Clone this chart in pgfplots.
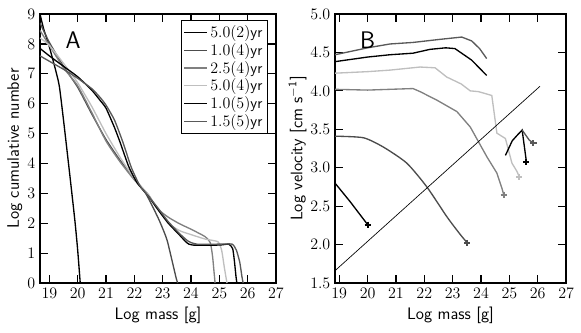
\documentclass[border=0pt]{standalone}
\usepackage{pgfplots}
\pgfplotsset{compat=1.18}
\begin{document}
\begin{tikzpicture}
\pgfplotsset{
  every axis/.append style={
    scale only axis, height=201.75pt,
    tick align=inside, major tick length=6pt,
    every tick/.style={line width=0.9pt, black},
    axis line style={line width=0.9pt},
    xmax=27, xtick={19,...,27},
    tick label style={font=\fontsize{12.5}{15}\selectfont},
    label style={font=\sffamily\fontsize{12.5}{15}\selectfont},
    xlabel={Log mass [g]},
    every axis plot/.append style={line width=1pt},
  }
}
\useasboundingbox (-30pt,-36.75pt) rectangle (405.75pt,212.25pt);

% panel A
\begin{axis}[
  at={(0pt,0pt)}, width=177pt,
  xmin=18.67, ymin=0, ymax=9, ytick={0,...,9},
  ylabel={Log cumulative number},
  ylabel shift=-3pt,
  legend style={font=\sffamily\fontsize{11.5}{12.5}\selectfont, at={(0.966,0.978)}, anchor=north east,
    draw=black, row sep=-1.2pt, inner sep=2pt},
  legend cell align=left,
  every axis plot/.append style={smooth, tension=0.35},
]
\addplot[black] coordinates {
  (18.67,9.0) (18.8,8.5) (19.0,7.9) (19.2,7.2) (19.35,6.6) (19.5,5.45)
  (19.7,3.8) (19.9,2.1) (20.0,1.1) (20.09,0)
};
\addlegendentry{$5.0(2)$yr}
\addplot[black!70] coordinates {
  (18.67,8.7) (19.0,8.05) (19.5,7.25) (20.0,6.55) (20.5,5.65) (21.0,4.8)
  (21.5,4.1) (22.0,3.5) (22.4,3.0) (22.7,2.45) (22.9,2.05) (23.15,1.45)
  (23.38,0.55) (23.48,0.15) (23.53,0)
};
\addlegendentry{$1.0(4)$yr}
\addplot[black!50] coordinates {
  (18.67,8.45) (19.0,7.95) (19.5,7.2) (20.0,6.6) (20.5,5.7) (21.0,4.75)
  (21.5,4.05) (22.0,3.45) (22.5,2.95) (22.8,2.5) (23.2,2.2) (23.6,1.98)
  (24.0,1.8) (24.5,1.55) (24.68,1.35) (24.76,0.9) (24.82,0.3) (24.85,0)
};
\addlegendentry{$2.5(4)$yr}
\addplot[black!25] coordinates {
  (18.67,8.2) (19.0,7.95) (19.5,7.35) (20.0,6.7) (20.5,5.9) (21.0,5.0)
  (21.5,4.2) (22.0,3.5) (22.5,2.95) (22.8,2.5) (23.2,2.0) (23.6,1.75)
  (24.0,1.62) (24.5,1.47) (24.95,1.38) (25.08,1.1) (25.18,0.5) (25.27,0)
};
\addlegendentry{$5.0(4)$yr}
\addplot[black] coordinates {
  (18.67,7.85) (19.0,7.6) (19.5,7.25) (20.0,6.9) (20.5,6.45) (20.8,6.1)
  (21.0,5.85) (21.3,5.2) (21.5,4.7) (21.8,3.9) (22.1,3.35) (22.5,2.9)
  (22.8,2.5) (23.2,2.0) (23.6,1.6) (23.85,1.35) (24.05,1.27) (25.0,1.27)
  (25.33,1.3) (25.47,1.15) (25.53,0.75) (25.59,0.2) (25.62,0)
};
\addlegendentry{$1.0(5)$yr}
\addplot[black!65] coordinates {
  (18.67,7.6) (19.0,7.42) (19.5,7.15) (20.0,6.85) (20.5,6.5) (20.8,6.2)
  (21.0,5.95) (21.3,5.45) (21.6,4.7) (21.9,3.85) (22.2,3.25) (22.5,2.9)
  (22.8,2.55) (23.2,2.05) (23.6,1.65) (23.9,1.4) (24.2,1.3) (25.0,1.3)
  (25.45,1.3) (25.6,1.1) (25.72,0.7) (25.8,0.2) (25.84,0)
};
\addlegendentry{$1.5(5)$yr}
\node[font=\sffamily\fontsize{18}{20}\selectfont, anchor=center] at (axis cs:19.84,8.13) {A};
\end{axis}

% panel B
\begin{axis}[
  at={(221.25pt,0pt)}, width=173.3pt,
  xmin=18.85, ymin=1.5, ymax=5.0, ytick={1.5,2.0,...,5.0},
  yticklabel style={/pgf/number format/.cd, fixed, fixed zerofill, precision=1},
  ylabel={Log velocity [cm s\textsuperscript{$-$1}]},
  ylabel shift=-4pt,
]
\addplot[black!65] coordinates {
  (18.85,4.47) (20.0,4.56) (20.79,4.61) (21.6,4.63) (22.55,4.67)
  (23.32,4.7) (23.67,4.65) (23.95,4.55) (24.2,4.42)
};
\addplot[black] coordinates {
  (18.85,4.38) (20.0,4.44) (20.79,4.47) (21.6,4.49) (22.2,4.54)
  (22.75,4.56) (23.08,4.55) (23.67,4.4) (24.2,4.2)
};
\addplot[black!25] coordinates {
  (18.85,4.23) (20.0,4.25) (20.79,4.27) (21.85,4.31) (22.38,4.3)
  (22.79,4.18) (23.3,4.09) (23.62,4.0) (23.91,3.99) (24.38,3.94)
  (24.56,3.45) (24.86,3.38) (25.09,3.06) (25.27,2.95) (25.35,2.88)
};
\addplot[black!25, only marks, mark=+, mark size=2.3pt, line width=1.5pt] coordinates {(25.35,2.88)};
\addplot[black!50] coordinates {
  (18.85,4.02) (20.0,4.01) (20.79,4.02) (21.6,4.03) (21.85,3.99) (22.44,3.88)
  (23.15,3.73) (23.62,3.53) (24.21,3.14) (24.56,2.93) (24.74,2.73) (24.8,2.65)
};
\addplot[black!50, only marks, mark=+, mark size=2.3pt, line width=1.5pt] coordinates {(24.8,2.65)};
\addplot[black!70, smooth, tension=0.4] coordinates {
  (18.85,3.41) (19.85,3.39) (20.55,3.27) (21.38,3.06) (22.09,2.75)
  (22.8,2.36) (23.27,2.13) (23.52,2.02)
};
\addplot[black!70, only marks, mark=+, mark size=2.3pt, line width=1.5pt] coordinates {(23.52,2.02)};
\addplot[black] coordinates {(18.85,2.8) (19.38,2.56) (20.0,2.26)};
\addplot[black, only marks, mark=+, mark size=2.3pt, line width=1.5pt] coordinates {(20.0,2.26)};
\addplot[black] coordinates {(24.86,3.16) (25.1,3.35) (25.27,3.42) (25.45,3.49) (25.6,3.08)};
\addplot[black, only marks, mark=+, mark size=2.3pt, line width=1.5pt] coordinates {(25.6,3.08)};
\addplot[black!65] coordinates {(25.45,3.49) (25.7,3.36) (25.85,3.32)};
\addplot[black!65, only marks, mark=+, mark size=2.3pt, line width=1.5pt] coordinates {(25.85,3.32)};
\addplot[black, line width=0.5pt] coordinates {(18.85,1.66) (26.08,4.06)};
\node[font=\sffamily\fontsize{18}{20}\selectfont, anchor=center] at (axis cs:20.0,4.66) {B};
\end{axis}
\end{tikzpicture}
\end{document}
